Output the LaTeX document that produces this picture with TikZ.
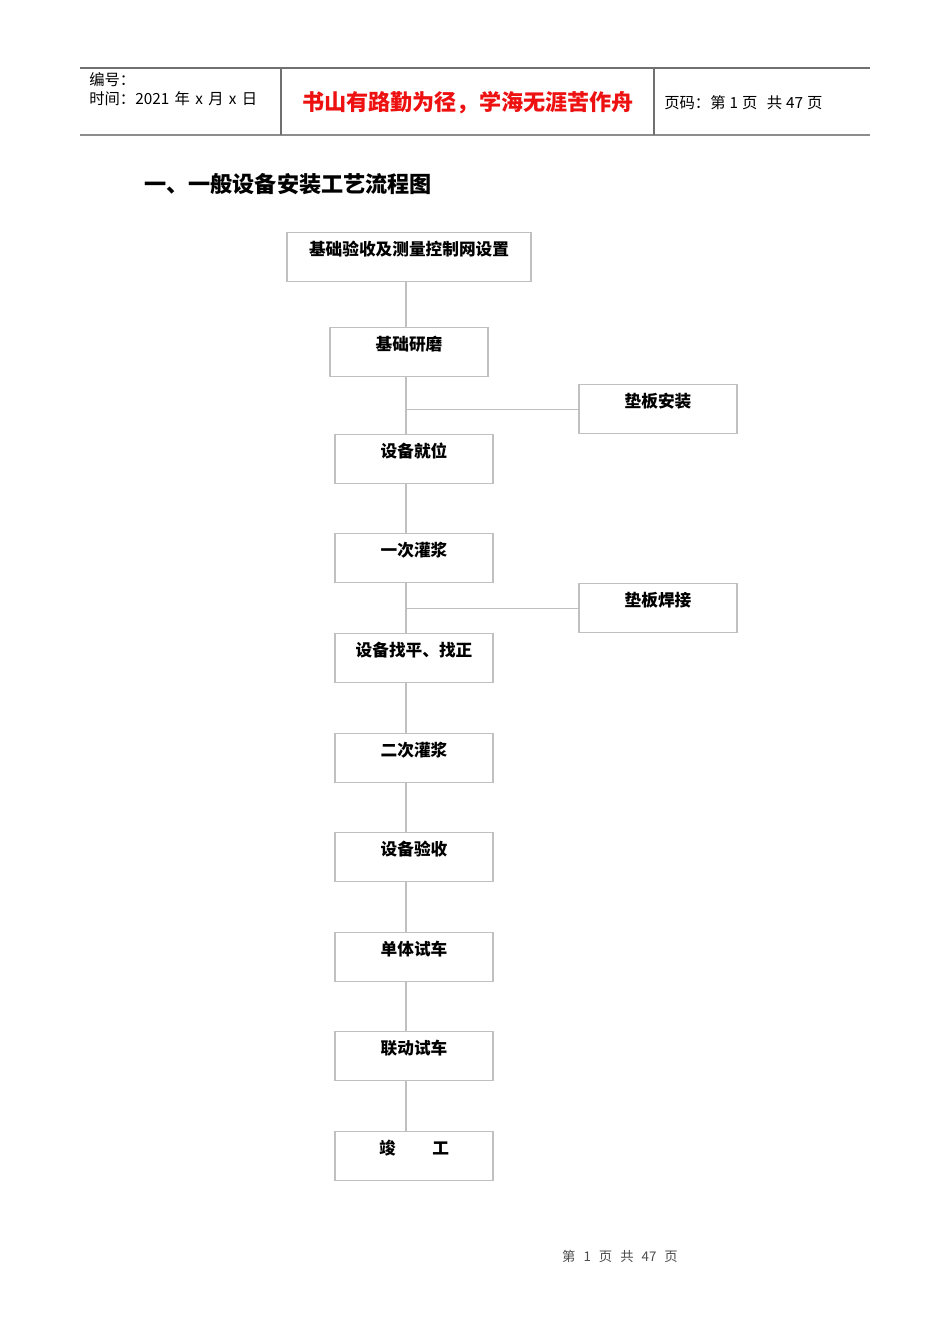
\documentclass[tikz,border=0pt]{standalone}
\usepackage{fontspec}
\setmainfont{Noto Sans CJK SC}
\begin{document}
\begin{tikzpicture}[x=0.75pt,y=-0.75pt,
  box/.style={draw=boxgray, line width=0.8pt, inner xsep=0pt, inner ysep=0pt,
    text height=17pt, text depth=20pt, anchor=north, font=\fontsize{12.5}{14}\selectfont\bfseries},
  link/.style={draw=boxgray, line width=0.8pt},
  hdr/.style={draw=hdrgray, line width=0.8pt},
  htext/.style={anchor=west, inner sep=0, font=\fontsize{11.5}{12}\selectfont}]
\definecolor{boxgray}{HTML}{C0C0C0}
\definecolor{hdrgray}{HTML}{707070}
\definecolor{motto}{HTML}{EE1111}
\useasboundingbox (0,0) rectangle (950,1344);
% header
\draw[hdr] (80,68) -- (870,68);
\draw[draw=hdrgray!80, line width=1.5pt] (80,135.5) -- (870,135.5);
\draw[hdr] (281,68) -- (281,135);
\draw[hdr] (654,68) -- (654,135);
\node[htext] (hno) at (89,80) {编号：};
\node[htext] (htime) at (89,99) {时间：2021\hspace{4pt}年\hspace{4pt}x\hspace{4pt}月\hspace{4pt}x\hspace{4pt}日};
\node[inner sep=0, text=motto, font=\fontsize{16.6}{18}\selectfont\bfseries] (hmotto) at (468,103) {书山有路勤为径，学海无涯苦作舟};
\node[htext] (hpage) at (664,103) {页码：第\hspace{3pt}1\hspace{3pt}页\hspace{7pt}共\hspace{3pt}47\hspace{3pt}页};
% title
\node[anchor=west, inner sep=0, font=\fontsize{16.6}{18}\selectfont\bfseries] (title) at (144,184) {一、一般设备安装工艺流程图};
% spine
\coordinate (spine) at (406,0);
% boxes
\node[box, minimum width=183pt] (b1) at (409,232) {基础验收及测量控制网设置};
\node[box, minimum width=118.5pt] (b2) at (409,327) {基础研磨};
\node[box, minimum width=118.5pt] (p1) at (658,384) {垫板安装};
\node[box, minimum width=118.5pt] (b3) at (414,434) {设备就位};
\node[box, minimum width=118.5pt] (b4) at (414,533) {一次灌浆};
\node[box, minimum width=118.5pt] (p2) at (658,583) {垫板焊接};
\node[box, minimum width=118.5pt] (b5) at (414,633) {设备找平、找正};
\node[box, minimum width=118.5pt] (b6) at (414,733) {二次灌浆};
\node[box, minimum width=118.5pt] (b7) at (414,832) {设备验收};
\node[box, minimum width=118.5pt] (b8) at (414,932) {单体试车};
\node[box, minimum width=118.5pt] (b9) at (414,1031) {联动试车};
\node[box, minimum width=118.5pt] (b10) at (414,1131) {竣\hspace{2.2em}工};
% connectors
\draw[link] (b1.south -| spine) -- (b2.north -| spine);
\draw[link] (b2.south -| spine) -- (b3.north -| spine);
\draw[link] (p1.west) -- (p1.west -| spine);
\draw[link] (b3.south -| spine) -- (b4.north -| spine);
\draw[link] (b4.south -| spine) -- (b5.north -| spine);
\draw[link] (p2.west) -- (p2.west -| spine);
\draw[link] (b5.south -| spine) -- (b6.north -| spine);
\draw[link] (b6.south -| spine) -- (b7.north -| spine);
\draw[link] (b7.south -| spine) -- (b8.north -| spine);
\draw[link] (b8.south -| spine) -- (b9.north -| spine);
\draw[link] (b9.south -| spine) -- (b10.north -| spine);
% footer
\node[inner sep=0, text=black!70, font=\fontsize{10}{12}\selectfont] (foot) at (620,1256) {第\hspace{6pt}1\hspace{6pt}页\hspace{6pt}共\hspace{6pt}47\hspace{6pt}页};
\end{tikzpicture}
\end{document}
